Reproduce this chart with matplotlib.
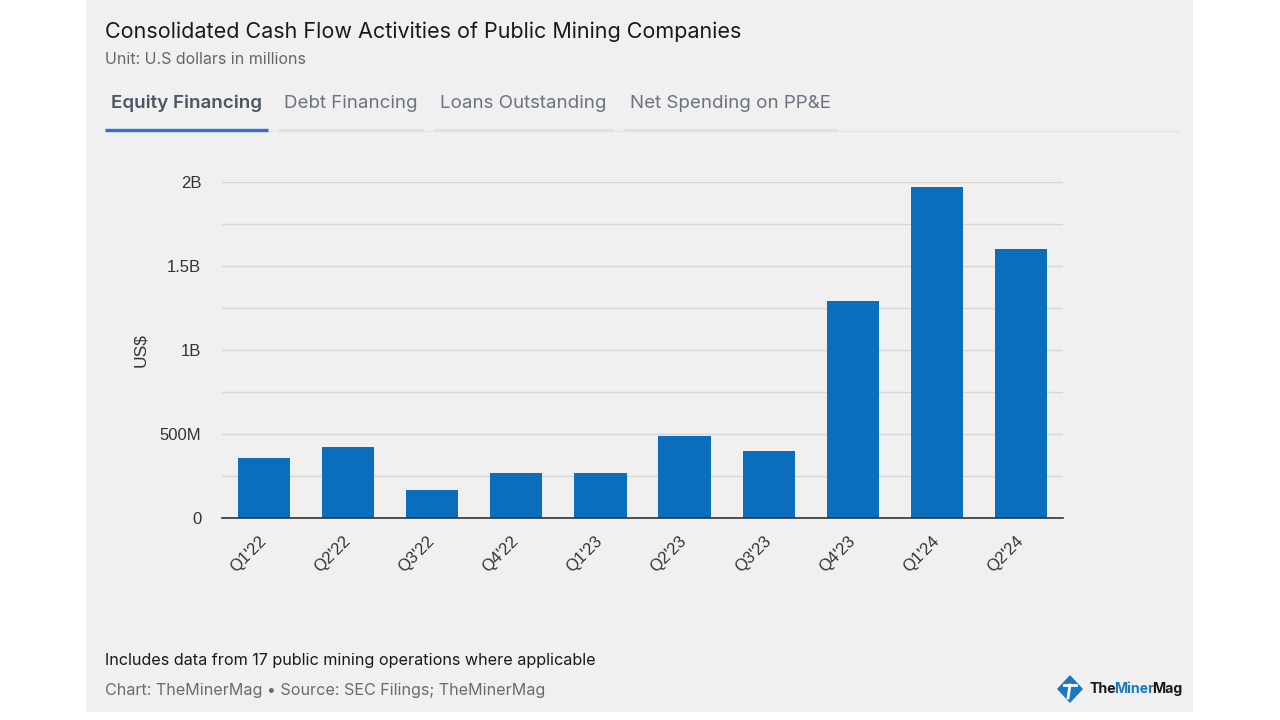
import matplotlib
matplotlib.use("Agg")
import matplotlib.pyplot as plt
from matplotlib.patches import Rectangle, Polygon
from matplotlib.lines import Line2D
from matplotlib.font_manager import FontProperties, findfont, get_font
from matplotlib.ticker import FuncFormatter, MultipleLocator

QUARTERS = ["Q1'22", "Q2'22", "Q3'22", "Q4'22", "Q1'23", "Q2'23", "Q3'23", "Q4'23", "Q1'24", "Q2'24"]
EQUITY_FINANCING = [357e6, 423e6, 167e6, 268e6, 268e6, 488e6, 399e6, 1292e6, 1970e6, 1601e6]
TABS = ["Equity Financing", "Debt Financing", "Loans Outstanding", "Net Spending on PP&E"]

BAR_COLOR = "#0a6ebd"
PANEL = "#f0f0f0"
HEAD_FONT = ["Inter", "DejaVu Sans"]
AXIS_FONT = ["Liberation Sans", "DejaVu Sans"]


def fmt_value(v, _pos):
    if v == 0:
        return "0"
    if v >= 1e9:
        return f"{v / 1e9:g}B"
    return f"{v / 1e6:g}M"


def main() -> None:
    W, H = 1280, 720
    fig = plt.figure(figsize=(W / 100, H / 100), dpi=100)
    fig.patch.set_facecolor("white")

    def px(x, y):
        return x / W, 1 - y / H

    # grey card behind everything
    fig.patches.append(Rectangle(px(86, 712), (1193 - 86) / W, 712 / H,
                                 transform=fig.transFigure, facecolor=PANEL, edgecolor="none", zorder=-5))

    # header
    fig.text(*px(105, 32), "Consolidated Cash Flow Activities of Public Mining Companies",
             fontsize=15.5, family=HEAD_FONT, color="#1a1a1a", va="center", ha="left")
    fig.text(*px(105, 59), "Unit: U.S dollars in millions",
             fontsize=11.5, family=HEAD_FONT, color="#666666", va="center", ha="left")

    tab_x = [111, 284, 440, 630]
    tab_line = [(105, 268), (278, 424), (434, 613), (624, 837)]
    fig.add_artist(Line2D([105 / W, 1180 / W], [1 - 131 / H] * 2, transform=fig.transFigure,
                          color="#e4e4e4", lw=1, zorder=1))
    for i, (label, x0, (l0, l1)) in enumerate(zip(TABS, tab_x, tab_line)):
        active = i == 0
        fig.text(*px(x0, 103), label, fontsize=13.5, family=HEAD_FONT,
                 color="#4b5563" if active else "#6b7280",
                 fontweight="semibold" if active else "normal", va="center", ha="left")
        fig.add_artist(Line2D([l0 / W, l1 / W], [1 - 130 / H] * 2, transform=fig.transFigure,
                              color="#2f6fd6" if active else "#e0e0e0",
                              lw=2.4 if active else 2.0, solid_capstyle="butt", zorder=2))

    # chart
    ax = fig.add_axes([222 / W, 1 - 518 / H, (1063 - 222) / W, (518 - 182) / H])
    ax.set_facecolor(PANEL)
    x = list(range(len(QUARTERS)))
    ax.bar(x, EQUITY_FINANCING, width=0.62, color=BAR_COLOR, zorder=3)
    ax.set_xlim(-0.5, len(QUARTERS) - 0.5)
    ax.set_ylim(0, 2e9)
    ax.yaxis.set_major_locator(MultipleLocator(5e8))
    ax.yaxis.set_minor_locator(MultipleLocator(2.5e8))
    ax.yaxis.set_major_formatter(FuncFormatter(fmt_value))
    ax.grid(axis="y", which="both", color="#d6d6d6", lw=1.0, zorder=0)
    ax.set_axisbelow(True)
    for s in ("top", "right", "left"):
        ax.spines[s].set_visible(False)
    ax.spines["bottom"].set_color("#333333")
    ax.spines["bottom"].set_linewidth(1.2)
    ax.spines["bottom"].set_zorder(4)
    ax.tick_params(axis="y", which="both", length=0, pad=15, labelsize=12, labelcolor="#333333")
    ax.tick_params(axis="x", length=0, pad=15, labelsize=12, labelcolor="#333333")
    for lab in ax.get_yticklabels():
        lab.set_family(AXIS_FONT)
    ax.set_xticks(x)
    ax.set_xticklabels(QUARTERS, rotation=45, ha="right", va="center",
                       rotation_mode="anchor", family=AXIS_FONT)
    ax.set_ylabel("US$", fontsize=12.5, family=AXIS_FONT, color="#333333", labelpad=8)

    # footer
    fig.text(*px(105, 660), "Includes data from 17 public mining operations where applicable",
             fontsize=11.65, family=HEAD_FONT, color="#1a1a1a", va="center", ha="left")
    fig.text(*px(105, 690), "Chart: TheMinerMag \u2022 Source: SEC Filings; TheMinerMag",
             fontsize=11.6, family=HEAD_FONT, color="#6b6b6b", va="center", ha="left")

    # logo mark
    cx, cy = 1070, 689
    fig.patches.append(Polygon([px(cx, cy - 14), px(cx + 13, cy), px(cx, cy + 14), px(cx - 13, cy)],
                               closed=True, transform=fig.transFigure, facecolor="#1c78c0",
                               edgecolor="none", zorder=2))
    fig.add_artist(Line2D([(cx - 6) / W, (cx + 6) / W], [1 - (cy - 4) / H] * 2,
                          transform=fig.transFigure, color="white", lw=2, zorder=3))
    fig.add_artist(Line2D([cx / W, (cx - 2) / W], [1 - (cy - 4) / H, 1 - (cy + 9) / H],
                          transform=fig.transFigure, color="white", lw=2, zorder=3))

    # logo word, "Miner" in blue; words placed by glyph advances (minus a small
    # correction, the rendered words otherwise sit a few px apart)
    prop = FontProperties(family=HEAD_FONT, weight="bold", size=10.2)
    font = get_font(findfont(prop))
    font.set_size(prop.get_size_in_points(), 100)

    def advance(s):
        return sum(font.load_char(ord(c)).linearHoriAdvance for c in s) / 65536

    x_pos = 1089
    for word, color in [("The", "#1a1a1a"), ("Miner", "#1c78c0"), ("Mag", "#1a1a1a")]:
        fig.text(*px(x_pos, 689), word, fontproperties=prop, color=color, va="center", ha="left")
        x_pos += advance(word) - 2

    fig.savefig("out.png", dpi=100, facecolor=fig.get_facecolor())


if __name__ == "__main__":
    main()
